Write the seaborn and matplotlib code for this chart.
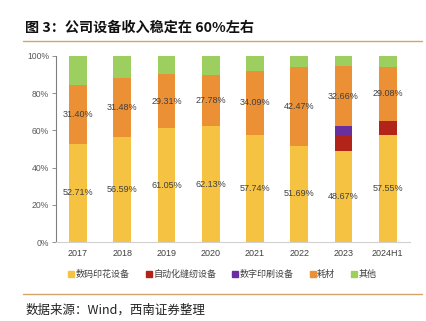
import matplotlib
matplotlib.use("Agg")
import matplotlib.pyplot as plt
from matplotlib.lines import Line2D
import seaborn as sns
import pandas as pd
import numpy as np

years = ["2017", "2018", "2019", "2020", "2021", "2022", "2023", "2024H1"]
digital_print = [52.71, 56.59, 61.05, 62.13, 57.74, 51.69, 48.67, 57.55]
auto_cut = [0, 0, 0, 0, 0, 0, 8.5, 7.5]
digital_press = [0, 0, 0, 0, 0, 0, 4.9, 0]
consumables = [31.40, 31.48, 29.31, 27.78, 34.09, 42.47, 32.66, 29.08]
others = [15.89, 11.93, 9.64, 10.09, 8.17, 5.84, 5.27, 5.87]

series_names = ["数码印花设备", "自动化缝纫设备", "数字印刷设备", "耗材", "其他"]
colors = ["#F5C242", "#B22318", "#6A2F9E", "#EB9035", "#9CCF5F"]

sns.set_theme(style="white")
plt.rcParams["font.family"] = ["Liberation Sans", "Noto Sans CJK SC", "DejaVu Sans"]

df = pd.DataFrame({"year": years, "s0": digital_print, "s1": auto_cut,
                   "s2": digital_press, "s3": consumables, "s4": others})
cum = df[["s0", "s1", "s2", "s3", "s4"]].cumsum(axis=1)

fig = plt.figure(figsize=(4.27, 3.21), dpi=100)
ax = fig.add_axes([0.131, 0.246, 0.829, 0.580])

for i in range(4, -1, -1):
    sns.barplot(x=df["year"], y=cum[f"s{i}"], color=colors[i], width=0.4,
                saturation=1, ax=ax, edgecolor="none")

x = np.arange(len(years))
for xi, (a, c, base) in enumerate(zip(digital_print, consumables, cum["s2"])):
    ax.text(xi, a / 2, f"{a:.2f}%", ha="center", va="center", fontsize=6.5, color="#404040")
    ax.text(xi, base + c / 2, f"{c:.2f}%", ha="center", va="center", fontsize=6.5, color="#404040")

ax.set_ylim(0, 100)
ax.set_xlim(-0.5, len(years) - 0.5)
ax.set_yticks([0, 20, 40, 60, 80, 100])
ax.set_yticklabels([f"{v}%" for v in [0, 20, 40, 60, 80, 100]], fontsize=6.2, color="#595959")
ax.set_xticks(x)
ax.set_xticklabels(years, fontsize=6.5, color="#404040")
ax.set_xlabel("")
ax.set_ylabel("")
ax.tick_params(axis="y", length=3, width=0.6, color="#808080", left=True, pad=2)
ax.tick_params(axis="x", length=0, pad=5)
for s in ["top", "right"]:
    ax.spines[s].set_visible(False)
ax.spines["left"].set_color("#808080")
ax.spines["left"].set_linewidth(0.8)
ax.spines["bottom"].set_color("#D0D0D0")
ax.spines["bottom"].set_linewidth(0.8)

handles = [Line2D([0], [0], marker="s", linestyle="", markersize=4,
                  markerfacecolor=c, markeredgecolor=c) for c in colors]
fig.legend(handles, series_names, loc="center", bbox_to_anchor=(0.52, 0.146), ncol=5,
           frameon=False, prop={"family": ["Noto Sans CJK SC"], "size": 6.5},
           handletextpad=0.1, columnspacing=1.7, handlelength=0.8, labelcolor="#404040")

fig.text(0.059, 0.913, "图 3：公司设备收入稳定在 60%左右", fontsize=10.2, fontweight="bold",
         family=["Noto Sans CJK SC", "DejaVu Sans"], va="center", ha="left", color="#111111")
fig.add_artist(Line2D([23 / 427, 422 / 427], [0.872, 0.872], color="#D4A56A", linewidth=1.0,
                      transform=fig.transFigure))
fig.add_artist(Line2D([23 / 427, 422 / 427], [0.084, 0.084], color="#D4A56A", linewidth=1.0,
                      transform=fig.transFigure))
fig.text(0.059, 0.034, "数据来源：Wind，西南证券整理", fontsize=9, style="italic",
         family=["Noto Sans CJK SC", "DejaVu Sans"], va="center", ha="left", color="#222222")

fig.savefig("out.png", dpi=100)
